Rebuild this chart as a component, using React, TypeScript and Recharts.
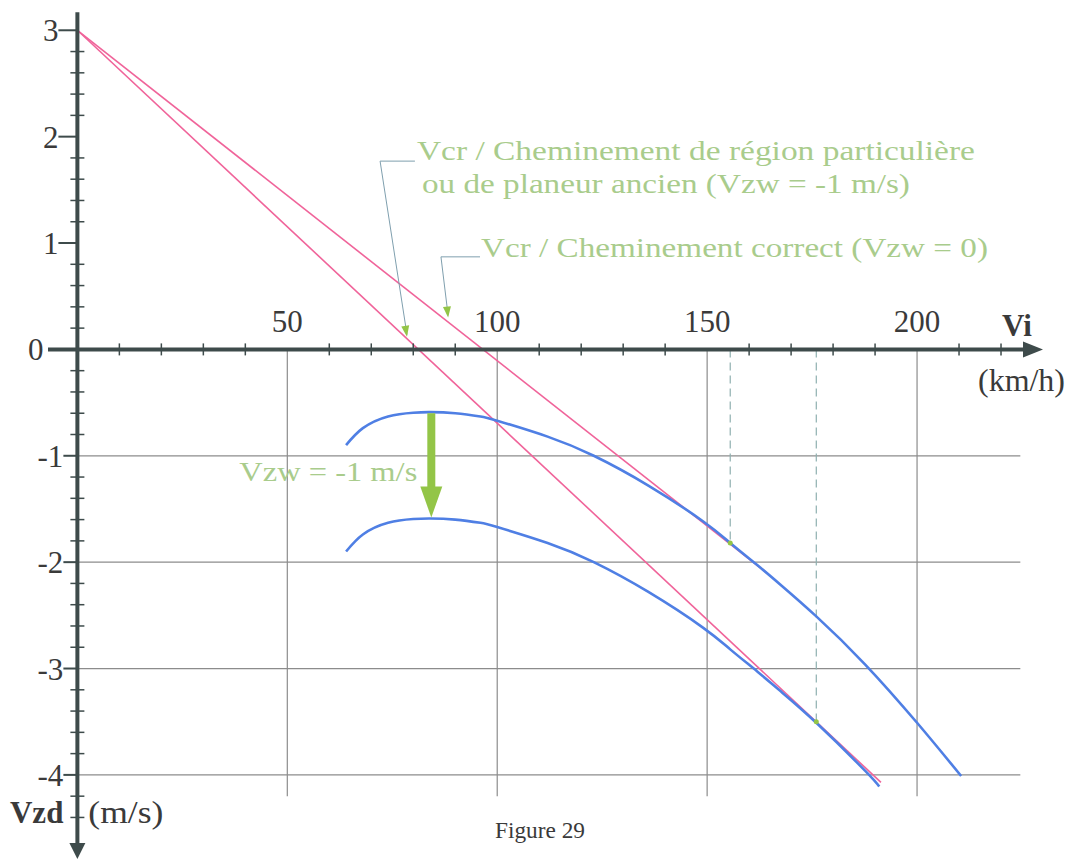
import React from 'react'
import {
  ComposedChart,
  XAxis,
  YAxis,
  Line,
  ReferenceLine,
  ReferenceDot,
} from 'recharts'

// polar curve, calm air (Vzw = 0)
const polarVi = [64, 68, 74, 80, 84, 90, 96, 100, 112, 123, 136, 149, 155.5, 162, 167.4, 176, 187.6, 200, 210.5]
const polarVzd = [-0.9, -0.74, -0.63, -0.595, -0.59, -0.6, -0.63, -0.67, -0.82, -1.0, -1.28, -1.615, -1.82, -2.03, -2.21, -2.51, -2.96, -3.51, -4.01]

// polar curve in sinking air (Vzw = -1 m/s)
const sinkVi = [64, 68, 74, 80, 84, 90, 96, 100, 112, 123, 136, 149, 155.5, 162, 167.4, 176, 187.6, 191]
const sinkVzd = [-1.9, -1.74, -1.63, -1.595, -1.59, -1.6, -1.63, -1.67, -1.82, -2.0, -2.28, -2.615, -2.82, -3.03, -3.21, -3.51, -3.96, -4.11]

// tangents from Vcr = 3 m/s
const correctVi = [0, 164.5]
const correctVzd = [3, -2.11]
const oldVi = [0, 191.4]
const oldVzd = [3, -4.07]

// tangent points
const tangentVi = [155.5, 176]
const tangentVzd = [-1.82, -3.5]

// axes
const xLabels = [50, 100, 150, 200]
const xMinor = [10, 20, 30, 40, 60, 70, 80, 90, 110, 120, 130, 140, 160, 170, 180, 190, 210, 220]
const yLabels = [3, 2, 1, 0, -1, -2, -3, -4]
const yMinor = [
  2.8, 2.6, 2.4, 2.2, 1.8, 1.6, 1.4, 1.2, 0.8, 0.6, 0.4, 0.2,
  -0.2, -0.4, -0.6, -0.8, -1.2, -1.4, -1.6, -1.8, -2.2, -2.4, -2.6, -2.8,
  -3.2, -3.4, -3.6, -3.8, -4.2, -4.4,
]
const gridVzd = [-1, -2, -3, -4]

const serif = 'Liberation Serif, Times New Roman, serif'
const axisColor = '#3e4b4b'
const gridColor = '#8c8c8c'
const pink = '#f0649a'
const blue = '#4f7fe4'
const green = '#93c547'
const noteGreen = '#a9cc8c'
const leaderColor = '#7f9fae'

const zip = (xs: number[], ys: number[]) =>
  xs.map((x, i) => ({ x, y: ys[i] }))

function label(
  value: string,
  opts: {
    dx?: number
    dy?: number
    size?: number
    anchor?: string
    fill?: string
    bold?: boolean
    width?: number
  } = {}
) {
  return (p: any) => (
    <text
      x={p.cx + (opts.dx || 0)}
      y={p.cy + (opts.dy || 0)}
      style={{
        fontFamily: serif,
        fontSize: opts.size || 31,
        fontWeight: opts.bold ? 700 : 400,
      }}
      textAnchor={opts.anchor || 'start'}
      fill={opts.fill || '#3a3a3a'}
      textLength={opts.width}
      lengthAdjust={opts.width ? 'spacingAndGlyphs' : undefined}
    >
      {value}
    </text>
  )
}

const xTick = (p: any) => (
  <line x1={p.cx} y1={p.cy - 6} x2={p.cx} y2={p.cy + 6} stroke={axisColor} strokeWidth={1.5} />
)
const yTick = (p: any) => (
  <line x1={p.cx - 7} y1={p.cy} x2={p.cx + 7} y2={p.cy} stroke={axisColor} strokeWidth={1.5} />
)
const yMajor = (len: number) => (p: any) => (
  <line x1={p.cx - len} y1={p.cy} x2={p.cx} y2={p.cy} stroke={axisColor} strokeWidth={2} />
)

const rightArrow = (p: any) => (
  <polygon points={`${p.cx},${p.cy} ${p.cx - 20},${p.cy - 8} ${p.cx - 20},${p.cy + 8}`} fill={axisColor} />
)
const downArrow = (p: any) => (
  <polygon points={`${p.cx},${p.cy} ${p.cx - 8},${p.cy - 16} ${p.cx + 8},${p.cy - 16}`} fill={axisColor} />
)
const bigGreenHead = (p: any) => (
  <polygon points={`${p.cx},${p.cy} ${p.cx - 11},${p.cy - 31} ${p.cx + 11},${p.cy - 31}`} fill={green} />
)
const smallHead = (angle: number) => (p: any) => (
  <polygon
    points={`${p.cx},${p.cy} ${p.cx - 4},${p.cy - 11} ${p.cx + 4},${p.cy - 11}`}
    fill={green}
    transform={`rotate(${angle} ${p.cx} ${p.cy})`}
  />
)
const greenDot = (p: any) => <circle cx={p.cx} cy={p.cy} r={2.5} fill={green} />

export default function App() {
  return (
    <div
      style={{
        position: 'absolute',
        left: 0,
        top: 0,
        width: 1071,
        height: 860,
        overflow: 'hidden',
        background: '#fff',
      }}
    >
      <ComposedChart
        width={1071}
        height={860}
        margin={{ top: 9, right: 28, bottom: 0, left: 48 }}
      >
        <XAxis type="number" dataKey="x" domain={[-7, 230]} allowDataOverflow hide />
        <YAxis type="number" dataKey="y" domain={[-4.8, 3.2]} allowDataOverflow hide />

        {/* grid, below the x axis only */}
        {xLabels.map((v) => (
          <ReferenceLine
            key={'gx' + v}
            segment={[{ x: v, y: 0 }, { x: v, y: -4.2 }]}
            stroke={gridColor}
            strokeWidth={1.2}
            ifOverflow="visible"
          />
        ))}
        {gridVzd.map((v) => (
          <ReferenceLine
            key={'gy' + v}
            segment={[{ x: 0, y: v }, { x: 224.6, y: v }]}
            stroke={gridColor}
            strokeWidth={1.2}
            ifOverflow="visible"
          />
        ))}

        {/* dashed verticals to tangent points */}
        {tangentVi.map((v, i) => (
          <ReferenceLine
            key={'d' + v}
            segment={[{ x: v, y: 0 }, { x: v, y: tangentVzd[i] }]}
            stroke="#8fb0b0"
            strokeWidth={1.2}
            strokeDasharray="8 5"
            ifOverflow="visible"
          />
        ))}

        <Line
          data={zip(correctVi, correctVzd)}
          dataKey="y"
          type="linear"
          stroke={pink}
          strokeWidth={1.6}
          dot={false}
          isAnimationActive={false}
        />
        <Line
          data={zip(oldVi, oldVzd)}
          dataKey="y"
          type="linear"
          stroke={pink}
          strokeWidth={1.6}
          dot={false}
          isAnimationActive={false}
        />
        <Line
          data={zip(polarVi, polarVzd)}
          dataKey="y"
          type="natural"
          stroke={blue}
          strokeWidth={2.6}
          dot={false}
          isAnimationActive={false}
        />
        <Line
          data={zip(sinkVi, sinkVzd)}
          dataKey="y"
          type="natural"
          stroke={blue}
          strokeWidth={2.6}
          dot={false}
          isAnimationActive={false}
        />

        {tangentVi.map((v, i) => (
          <ReferenceDot key={'t' + v} x={v} y={tangentVzd[i]} shape={greenDot} ifOverflow="visible" />
        ))}

        {/* wind arrow */}
        <ReferenceLine
          segment={[{ x: 84.3, y: -0.6 }, { x: 84.3, y: -1.3 }]}
          stroke={green}
          strokeWidth={8}
          ifOverflow="visible"
        />
        <ReferenceDot x={84.3} y={-1.58} shape={bigGreenHead} ifOverflow="visible" />
        <ReferenceDot
          x={84.3}
          y={-1.0}
          shape={label('Vzw = -1 m/s', { dx: -14, dy: 25, anchor: 'end', size: 28, fill: noteGreen, width: 178 })}
          ifOverflow="visible"
        />

        {/* axes */}
        <ReferenceLine
          segment={[{ x: -7, y: 0 }, { x: 227, y: 0 }]}
          stroke={axisColor}
          strokeWidth={4}
          ifOverflow="visible"
        />
        <ReferenceLine
          segment={[{ x: 0, y: 3.17 }, { x: 0, y: -4.65 }]}
          stroke={axisColor}
          strokeWidth={4}
          ifOverflow="visible"
        />
        <ReferenceDot x={230} y={0} shape={rightArrow} ifOverflow="visible" />
        <ReferenceDot x={0} y={-4.79} shape={downArrow} ifOverflow="visible" />

        {xMinor.map((v) => (
          <ReferenceDot key={'xm' + v} x={v} y={0} shape={xTick} ifOverflow="visible" />
        ))}
        {yMinor.map((v) => (
          <ReferenceDot key={'ym' + v} x={0} y={v} shape={yTick} ifOverflow="visible" />
        ))}
        {yLabels
          .filter((v) => v !== 0)
          .map((v) => (
            <ReferenceDot key={'yM' + v} x={0} y={v} shape={yMajor(v > 0 ? 19 : 14)} ifOverflow="visible" />
          ))}

        {xLabels.map((v) => (
          <ReferenceDot
            key={'xl' + v}
            x={v}
            y={0}
            shape={label(String(v), { dy: -17, anchor: 'middle' })}
            ifOverflow="visible"
          />
        ))}
        {yLabels.map((v) => (
          <ReferenceDot
            key={'yl' + v}
            x={0}
            y={v}
            shape={label(String(v), {
              dx: v === 0 ? -34 : v > 0 ? -19 : -14,
              dy: 11,
              anchor: 'end',
            })}
            ifOverflow="visible"
          />
        ))}

        <ReferenceDot x={230} y={0} shape={label('Vi', { dx: -41, dy: -13, bold: true })} ifOverflow="visible" />
        <ReferenceDot x={230} y={0} shape={label('(km/h)', { dx: 22, dy: 42, anchor: 'end', width: 87 })} ifOverflow="visible" />
        <ReferenceDot x={0} y={-4.45} shape={label('Vzd', { dx: -14, anchor: 'end', bold: true })} ifOverflow="visible" />
        <ReferenceDot x={0} y={-4.45} shape={label('(m/s)', { dx: 11, width: 75 })} ifOverflow="visible" />
        <ReferenceDot x={110.2} y={-4.59} shape={label('Figure 29', { anchor: 'middle', size: 24, width: 90 })} ifOverflow="visible" />

        {/* annotations */}
        <ReferenceLine
          segment={[{ x: 72.1, y: 1.77 }, { x: 80.4, y: 1.77 }]}
          stroke={leaderColor}
          strokeWidth={1}
          ifOverflow="visible"
        />
        <ReferenceLine
          segment={[{ x: 72.1, y: 1.77 }, { x: 78.5, y: 0.14 }]}
          stroke={leaderColor}
          strokeWidth={1}
          ifOverflow="visible"
        />
        <ReferenceDot x={78.5} y={0.12} shape={smallHead(-9)} ifOverflow="visible" />
        <ReferenceLine
          segment={[{ x: 86.6, y: 0.87 }, { x: 95.9, y: 0.87 }]}
          stroke={leaderColor}
          strokeWidth={1}
          ifOverflow="visible"
        />
        <ReferenceLine
          segment={[{ x: 86.6, y: 0.87 }, { x: 88.3, y: 0.32 }]}
          stroke={leaderColor}
          strokeWidth={1}
          ifOverflow="visible"
        />
        <ReferenceDot x={88.3} y={0.3} shape={smallHead(-6)} ifOverflow="visible" />

        <ReferenceDot
          x={80.4}
          y={1.78}
          shape={label('Vcr / Cheminement de région particulière', { dx: 2, size: 27, fill: noteGreen, width: 558 })}
          ifOverflow="visible"
        />
        <ReferenceDot
          x={80.4}
          y={1.47}
          shape={label('ou de planeur ancien (Vzw = -1 m/s)', { dx: 7, size: 27, fill: noteGreen, width: 488 })}
          ifOverflow="visible"
        />
        <ReferenceDot
          x={95.9}
          y={0.87}
          shape={label('Vcr / Cheminement correct (Vzw = 0)', { dx: 1, size: 27, fill: noteGreen, width: 507 })}
          ifOverflow="visible"
        />
      </ComposedChart>
    </div>
  )
}
